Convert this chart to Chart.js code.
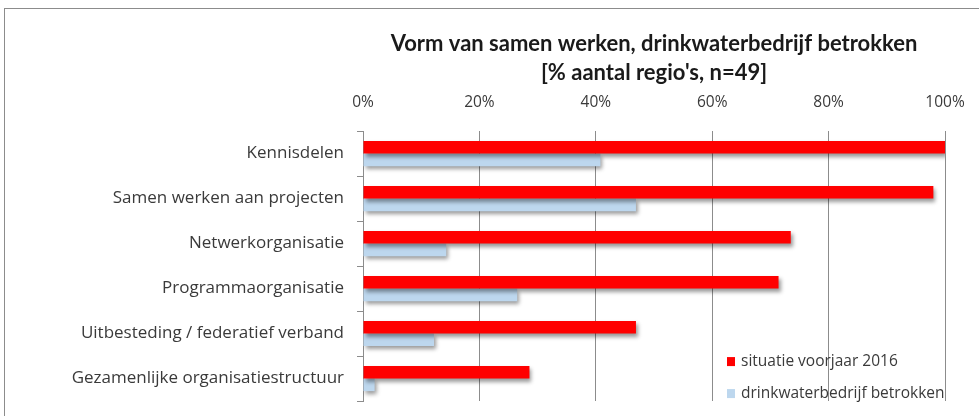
<!DOCTYPE html>
<html lang="nl">
<head>
    <meta charset="UTF-8">
    <title>Vorm van samen werken</title>
    <script src="https://cdn.jsdelivr.net/npm/chart.js"></script>
    <style>
        body {
            margin: 0;
            padding: 0;
            background: #ffffff;
            overflow: hidden;
        }
        .frame {
            position: absolute;
            left: 4px;
            top: 8px;
            width: 990px;
            height: 420px;
            border-top: 1px solid #8c8c8c;
            border-left: 1px solid #8c8c8c;
        }
        .chart-box {
            position: absolute;
            left: 0;
            top: 0;
            width: 974px;
            height: 407px;
        }
    </style>
</head>
<body>
    <div class="frame">
        <div class="chart-box">
            <canvas id="vormChart"></canvas>
        </div>
    </div>
    <script>
        var categories = [
            'Kennisdelen',
            'Samen werken aan projecten',
            'Netwerkorganisatie',
            'Programmaorganisatie',
            'Uitbesteding / federatief verband',
            'Gezamenlijke organisatiestructuur'
        ];
        var situatie2016 = [100, 98.0, 73.5, 71.4, 46.9, 28.6];
        var drinkwaterBetrokken = [40.8, 46.9, 14.3, 26.5, 12.2, 2.0];
        var xTicks = [0, 20, 40, 60, 80, 100];
        var seriesNames = ['situatie voorjaar 2016', 'drinkwaterbedrijf betrokken'];
        var titleLines = ['Vorm van samen werken, drinkwaterbedrijf betrokken', "[% aantal regio's, n=49]"];

        var labelFont = "'Open Sans', Lato, sans-serif";
        var titleFont = "Lato, 'Open Sans', sans-serif";
        var textColor = '#3a3a3a';
        var gridColor = '#8c8c8c';

        // bars get a soft drop shadow like the Excel original
        var barShadow = {
            id: 'barShadow',
            beforeDatasetsDraw: function(chart) {
                var c = chart.ctx;
                c.save();
                c.shadowColor = 'rgba(0, 0, 0, 0.4)';
                c.shadowBlur = 4;
                c.shadowOffsetX = 2;
                c.shadowOffsetY = 3;
            },
            afterDatasetsDraw: function(chart) {
                chart.ctx.restore();
            }
        };

        // legend sits inside the plot, bottom right, one item per line
        var innerLegend = {
            id: 'innerLegend',
            afterDatasetsDraw: function(chart) {
                var c = chart.ctx;
                var area = chart.chartArea;
                var x = area.left + 364;
                var y = area.top + 230;
                c.save();
                c.font = '15.5px ' + labelFont;
                c.textBaseline = 'middle';
                c.textAlign = 'left';
                chart.data.datasets.forEach(function(ds, i) {
                    var cy = y + i * 32;
                    c.fillStyle = ds.backgroundColor;
                    c.fillRect(x, cy - 4, 8, 9);
                    c.fillStyle = textColor;
                    c.fillText(ds.label, x + 14, cy);
                });
                c.restore();
            }
        };

        var ctx = document.getElementById('vormChart').getContext('2d');
        var chart = new Chart(ctx, {
            type: 'bar',
            data: {
                labels: categories,
                datasets: [{
                    label: seriesNames[0],
                    data: situatie2016,
                    backgroundColor: '#ff0000',
                    borderWidth: 0,
                    categoryPercentage: 0.56,
                    barPercentage: 1.0
                }, {
                    label: seriesNames[1],
                    data: drinkwaterBetrokken,
                    backgroundColor: '#bdd7ee',
                    borderWidth: 0,
                    categoryPercentage: 0.56,
                    barPercentage: 1.0
                }]
            },
            options: {
                responsive: true,
                maintainAspectRatio: false,
                animation: false,
                indexAxis: 'y',
                layout: {
                    padding: { left: 0, right: 34, top: 0, bottom: 15 }
                },
                scales: {
                    x: {
                        position: 'top',
                        min: 0,
                        max: 100,
                        afterBuildTicks: function(scale) {
                            scale.ticks = xTicks.map(function(v) { return { value: v }; });
                        },
                        afterFit: function(scale) {
                            scale.height = 38;
                            scale.paddingLeft = 0;
                            scale.paddingRight = 0;
                        },
                        ticks: {
                            color: textColor,
                            font: { family: labelFont, size: 15.5 },
                            padding: 19,
                            callback: function(v) { return v + '%'; }
                        },
                        grid: {
                            color: gridColor,
                            drawTicks: false
                        },
                        border: { display: false }
                    },
                    y: {
                        afterFit: function(scale) {
                            scale.width = 358;
                            scale.paddingTop = 0;
                            scale.paddingBottom = 0;
                        },
                        ticks: {
                            color: textColor,
                            font: { family: labelFont, size: 17 },
                            padding: 13
                        },
                        grid: {
                            offset: true,
                            drawOnChartArea: false,
                            tickLength: 6,
                            color: gridColor
                        },
                        border: { color: gridColor }
                    }
                },
                plugins: {
                    legend: { display: false },
                    tooltip: { enabled: false },
                    title: {
                        display: true,
                        text: titleLines,
                        fullSize: false,
                        color: '#1a1a1a',
                        font: { family: titleFont, size: 22, weight: 'bold', lineHeight: 1.32 },
                        padding: { top: 20, bottom: 6 }
                    }
                }
            },
            plugins: [barShadow, innerLegend]
        });
    </script>
</body>
</html>
